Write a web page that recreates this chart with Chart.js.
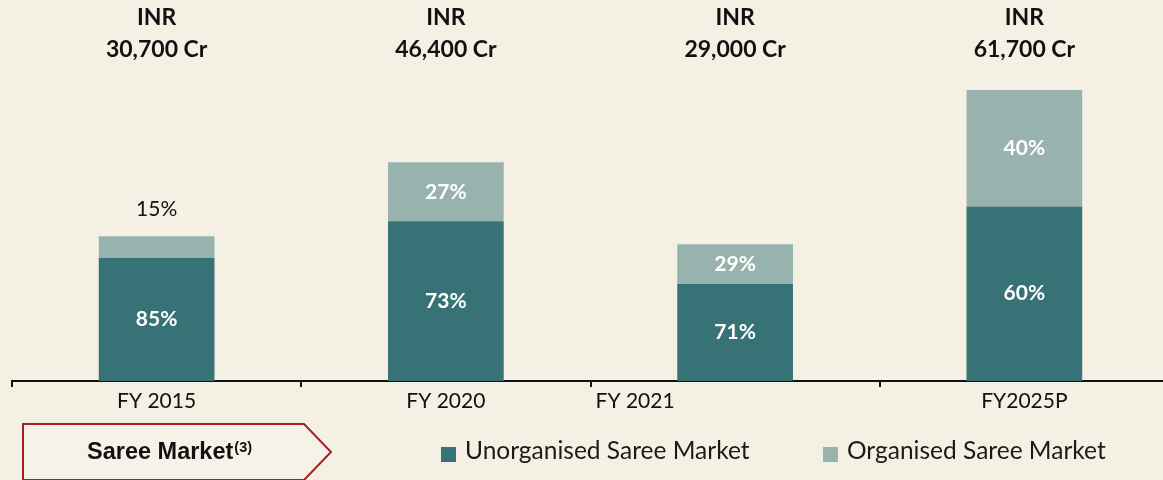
<!DOCTYPE html>
<html>
<head>
<meta charset="utf-8">
<script src="https://cdn.jsdelivr.net/npm/chart.js@4.4.1/dist/chart.umd.min.js"></script>
<style>
  html, body { margin:0; padding:0; background:#F4F0E4; overflow:hidden; width:1163px; height:480px; }
  #wrap { position:absolute; left:0; top:0; width:1169px; height:480px; }
  #legend { position:absolute; left:0; top:0; width:1163px; height:480px; pointer-events:none; font-family: Lato, "Open Sans", sans-serif; }
  .arrow { position:absolute; left:22px; top:423px; }
  .arrowText { position:absolute; left:87px; top:438px; white-space:nowrap;
    font-family:"Liberation Sans", Arial, sans-serif; font-weight:bold; font-size:23.5px; line-height:26px; color:#111; }
  .arrowText .sup { font-size:14.5px; position:relative; top:-7px; margin-left:1px; }
  .li { position:absolute; top:436px; font-size:24.5px; line-height:28px; color:#1a1a1a; white-space:nowrap; }
  .sw { position:absolute; left:0; top:11px; width:15px; height:15px; }
  .li .tx { position:absolute; left:24px; top:0; }
</style>
</head>
<body>
<div id="wrap"><canvas id="c"></canvas></div>
<div id="legend">
  <svg class="arrow" width="312" height="58" viewBox="0 0 312 58">
    <polygon points="1,1 282,1 309,29 282,57 1,57" fill="#F6F2E8" stroke="#A52020" stroke-width="2"/>
  </svg>
  <div class="arrowText">Saree Market<span class="sup">(3)</span></div>
</div>
<script>
const categories = ["FY 2015", "FY 2020", "FY 2021", "FY2025P"];
const marketSizeLabels = ["30,700 Cr", "46,400 Cr", "29,000 Cr", "61,700 Cr"];
const unorganisedValues = [26095, 33872, 20590, 37020];
const organisedValues = [4605, 12528, 8410, 24680];
const unorganisedShare = ["85%", "73%", "71%", "60%"];
const organisedShare = ["15%", "27%", "29%", "40%"];
const seriesNames = ["Unorganised Saree Market", "Organised Saree Market"];

const darkColor = "#367276";
const lightColor = "#98B3AE";
const FONT = "Lato, 'Open Sans', sans-serif";

const labelPlugin = {
  id: "customLabels",
  afterDatasetsDraw(chart) {
    const ctx = chart.ctx;
    const x = chart.scales.x;
    ctx.save();
    ctx.textAlign = "center";
    ctx.textBaseline = "middle";
    // top market size labels
    ctx.fillStyle = "#111";
    ctx.font = "bold 23px " + FONT;
    categories.forEach((c, i) => {
      const cx = x.getPixelForValue(i);
      ctx.fillText("INR", cx, 18);
      ctx.fillText(marketSizeLabels[i], cx, 50);
    });
    // segment labels
    const shares = [unorganisedShare, organisedShare];
    chart.data.datasets.forEach((ds, di) => {
      const meta = chart.getDatasetMeta(di);
      meta.data.forEach((bar, i) => {
        const top = Math.min(bar.y, bar.base);
        const bot = Math.max(bar.y, bar.base);
        const h = bot - top;
        if (h < 30) {
          ctx.fillStyle = "#111";
          ctx.font = "21px " + FONT;
          ctx.fillText(shares[di][i], bar.x, top - 27);
        } else {
          ctx.fillStyle = "#ffffff";
          ctx.font = "bold 21px " + FONT;
          ctx.fillText(shares[di][i], bar.x, (top + bot) / 2);
        }
      });
    });
    // x category labels
    const labelShift = [0, 0, -100, 0];
    ctx.fillStyle = "#111";
    ctx.font = "21px " + FONT;
    const yAxis = chart.chartArea.bottom;
    categories.forEach((c, i) => {
      ctx.fillText(c, x.getPixelForValue(i) + labelShift[i], yAxis + 20);
    });
    ctx.restore();
  }
};

new Chart(document.getElementById("c"), {
  type: "bar",
  data: {
    labels: categories,
    datasets: [
      { label: seriesNames[0], data: unorganisedValues, backgroundColor: darkColor, barPercentage: 0.5, categoryPercentage: 0.8 },
      { label: seriesNames[1], data: organisedValues, backgroundColor: lightColor, barPercentage: 0.5, categoryPercentage: 0.8 }
    ]
  },
  options: {
    responsive: true,
    maintainAspectRatio: false,
    animation: false,
    layout: { padding: { left: 12, right: 0, top: 0, bottom: 93 } },
    plugins: { legend: { display: false }, tooltip: { enabled: false } },
    scales: {
      x: {
        stacked: true,
        grid: { offset: true, drawOnChartArea: false, drawTicks: true, tickLength: 6, color: "#111", lineWidth: 2 },
        border: { display: true, color: "#111", width: 2 },
        ticks: { display: false }
      },
      y: {
        stacked: true,
        display: false,
        min: 0,
        max: 80800
      }
    }
  },
  plugins: [labelPlugin]
});

// HTML legend built from the series
const legend = document.getElementById("legend");
const legendX = [441, 823];
[darkColor, lightColor].forEach((col, i) => {
  const d = document.createElement("div");
  d.className = "li";
  d.style.left = legendX[i] + "px";
  d.innerHTML = '<span class="sw" style="background:' + col + '"></span><span class="tx">' + seriesNames[i] + '</span>';
  legend.appendChild(d);
});
</script>
</body>
</html>
